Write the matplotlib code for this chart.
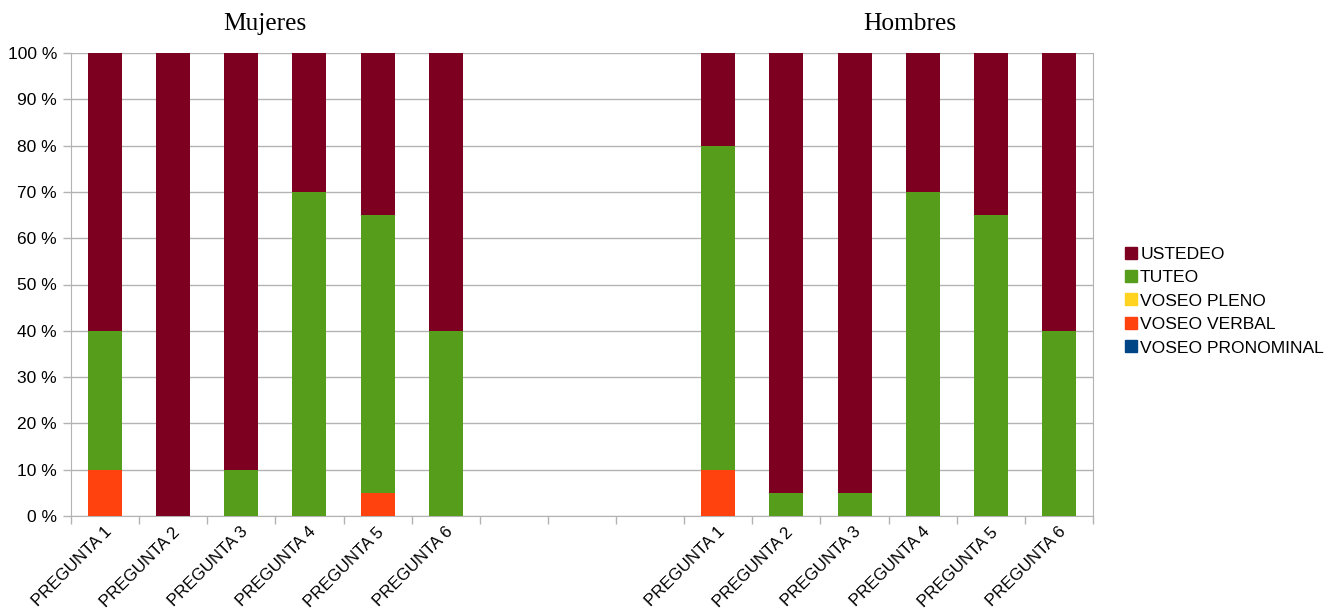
import matplotlib
matplotlib.use("Agg")
import matplotlib.pyplot as plt
import matplotlib.transforms as mtransforms
import numpy as np
from matplotlib.ticker import FixedLocator, FuncFormatter
from matplotlib.lines import Line2D

# Categories: six questions for women, three empty slots, six for men
categories = ["PREGUNTA 1", "PREGUNTA 2", "PREGUNTA 3", "PREGUNTA 4", "PREGUNTA 5", "PREGUNTA 6",
              "", "", "",
              "PREGUNTA 1", "PREGUNTA 2", "PREGUNTA 3", "PREGUNTA 4", "PREGUNTA 5", "PREGUNTA 6"]

# Percentages per series (bottom to top of the stack)
voseo_pronominal = [0, 0, 0, 0, 0, 0, 0, 0, 0, 0, 0, 0, 0, 0, 0]
voseo_verbal     = [10, 0, 0, 0, 5, 0, 0, 0, 0, 10, 0, 0, 0, 0, 0]
voseo_pleno      = [0, 0, 0, 0, 0, 0, 0, 0, 0, 0, 0, 0, 0, 0, 0]
tuteo            = [30, 0, 10, 70, 60, 40, 0, 0, 0, 70, 5, 5, 70, 65, 40]
ustedeo          = [60, 100, 90, 30, 35, 60, 0, 0, 0, 20, 95, 95, 30, 35, 60]

series = [
    ("VOSEO PRONOMINAL", voseo_pronominal, "#004586"),
    ("VOSEO VERBAL", voseo_verbal, "#ff420e"),
    ("VOSEO PLENO", voseo_pleno, "#ffd320"),
    ("TUTEO", tuteo, "#579d1c"),
    ("USTEDEO", ustedeo, "#7e0021"),
]

fig = plt.figure(figsize=(13.38, 6.09), dpi=100)
ax = fig.add_axes([71 / 1338, 1 - 516 / 609, (1093 - 71) / 1338, (516 - 53) / 609])

x = np.arange(len(categories))
bottom = np.zeros(len(categories))
for name, vals, color in series:
    vals = np.array(vals, dtype=float)
    ax.bar(x, vals, width=0.5, bottom=bottom, color=color, label=name, zorder=3)
    bottom += vals

ax.set_xlim(-0.5, len(categories) - 0.5)
ax.set_ylim(0, 100)
ax.yaxis.set_major_locator(FixedLocator(np.arange(0, 101, 10)))
ax.yaxis.set_major_formatter(FuncFormatter(lambda v, p: f"{int(v)} %"))
ax.grid(axis="y", color="#b3b3b3", linewidth=1, zorder=0)

ax.set_xticks(x)
ax.set_xticklabels(categories, rotation=45, ha="right", va="top", rotation_mode="anchor",
                   fontsize=12.2, family="Liberation Sans")
ax.tick_params(axis="x", which="major", length=0, pad=6)
shift = mtransforms.ScaledTranslation(-1 / 100, 0, fig.dpi_scale_trans)
for lbl in ax.get_xticklabels():
    lbl.set_transform(lbl.get_transform() + shift)
ax.set_xticks(np.arange(-0.5, len(categories), 1), minor=True)
ax.tick_params(axis="x", which="minor", length=6, color="#b3b3b3", width=1)
ax.tick_params(axis="y", length=6, color="#b3b3b3", width=1, labelsize=12.5, pad=4)
for lbl in ax.get_yticklabels():
    lbl.set_family("Liberation Sans")

for side in ["left", "right", "bottom", "top"]:
    ax.spines[side].set_color("#b3b3b3")
ax.spines["top"].set_visible(False)

fig.text(265 / 1338, 1 - 24 / 609, "Mujeres", ha="center", va="center",
         fontsize=18.3, family="Liberation Serif")
fig.text(910 / 1338, 1 - 24 / 609, "Hombres", ha="center", va="center",
         fontsize=18.3, family="Liberation Serif")

handles = [Line2D([], [], marker="s", linestyle="", color=c, markersize=8) for _, _, c in series[::-1]]
labels = [n for n, _, _ in series[::-1]]
leg = fig.legend(handles, labels, loc="center left", bbox_to_anchor=(1106 / 1338, 1 - 301 / 609),
                 frameon=False, handletextpad=0.05, labelspacing=0.47, handlelength=1.0,
                 prop={"family": "Liberation Sans", "size": 12.6})

fig.savefig("out.png", dpi=100)
